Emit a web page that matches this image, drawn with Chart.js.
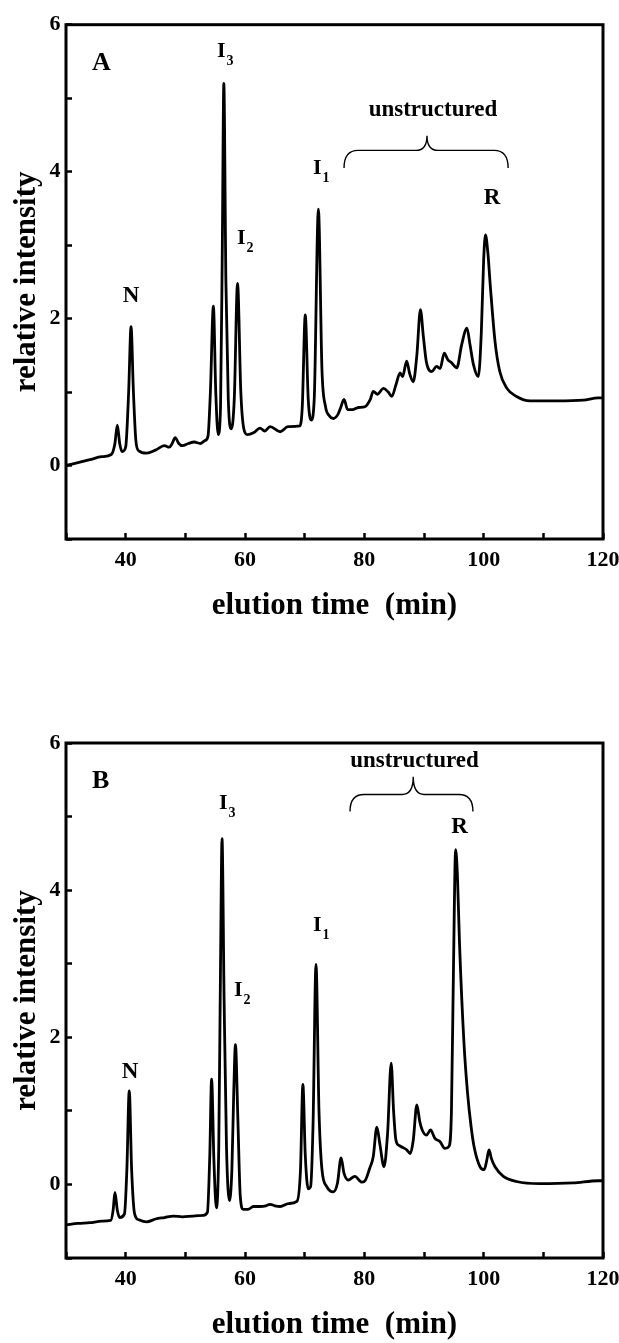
<!DOCTYPE html>
<html>
<head>
<meta charset="utf-8">
<script src="https://cdn.jsdelivr.net/npm/chart.js@4/dist/chart.umd.min.js"></script>
<style>
  html, body { margin: 0; padding: 0; background: #fff; width: 619px; height: 1343px; overflow: hidden; }
  canvas { position: absolute; left: 0; }
  #chartA { top: 0; }
  #chartB { top: 640px; }
</style>
</head>
<body>
<canvas id="chartA" width="619" height="624"></canvas>
<canvas id="chartB" width="619" height="703"></canvas>
<script>
// Panel A chromatogram (elution time in min, relative intensity)
const timeA = [30.0, 32.0, 34.0, 36.0, 37.6, 38.2, 38.6, 39.0, 39.4, 40.0, 40.5, 40.9, 41.3, 41.7, 42.2,
  43.5, 45.0, 46.5, 47.3, 47.8, 48.3, 48.9, 49.5, 50.5, 51.5, 52.5, 53.3, 53.8, 54.2, 54.7, 55.1, 55.5,
  55.9, 56.2, 56.45, 56.8, 57.2, 57.7, 58.2, 58.75, 59.3, 59.8, 60.4, 61.5, 62.5, 63.3, 64.2, 65.9, 67.2,
  69.2, 69.6, 70.1, 70.6, 71.1, 71.6, 72.3, 72.9, 73.5, 74.1, 74.8, 75.6, 76.0, 76.6, 77.2, 78.0, 79.0,
  80.1, 81.0, 81.5, 82.2, 83.2, 84.0, 84.6, 85.3, 86.0, 86.4, 87.1, 87.6, 88.2, 88.8, 89.4, 89.9, 90.4,
  91.3, 92.1, 92.7, 93.4, 94.0, 94.6, 95.5, 96.3, 97.2, 97.7, 98.3, 99.1, 99.6, 100.0, 100.3, 100.7,
  101.1, 101.9, 102.7, 103.9, 105.5, 107.8, 112.2, 116.7, 119.2, 120.0];
const intensityA = [0.00, 0.04, 0.08, 0.12, 0.15, 0.30, 0.55, 0.30, 0.19, 0.25, 1.00, 1.89, 1.00, 0.35, 0.20,
  0.17, 0.21, 0.27, 0.25, 0.30, 0.38, 0.30, 0.27, 0.30, 0.32, 0.30, 0.34, 0.40, 1.00, 2.17, 1.00, 0.42,
  0.80, 3.00, 5.20, 2.50, 0.90, 0.50, 0.90, 2.48, 1.00, 0.50, 0.42, 0.45, 0.51, 0.47, 0.53, 0.46, 0.53,
  0.54, 0.80, 2.05, 0.90, 0.62, 0.90, 3.49, 1.30, 0.80, 0.68, 0.64, 0.70, 0.78, 0.90, 0.76, 0.76, 0.79,
  0.80, 0.90, 1.01, 0.97, 1.05, 1.00, 0.94, 1.10, 1.26, 1.21, 1.42, 1.25, 1.14, 1.50, 2.12, 1.75, 1.41,
  1.28, 1.35, 1.32, 1.53, 1.44, 1.40, 1.33, 1.64, 1.87, 1.65, 1.37, 1.21, 1.80, 2.80, 3.14, 2.90,
  2.46, 1.69, 1.28, 1.05, 0.94, 0.88, 0.88, 0.89, 0.92, 0.92];

// Panel B chromatogram
const timeB = [30.0, 32.0, 34.0, 36.0, 37.5, 37.9, 38.2, 38.6, 39.0, 39.8, 40.2, 40.6, 41.0, 41.5, 42.2,
  43.5, 45.0, 46.5, 48.0, 49.5, 51.3, 53.0, 53.7, 54.1, 54.4, 54.8, 55.2, 55.6, 55.9, 56.15, 56.5, 56.9,
  57.4, 57.8, 58.1, 58.4, 58.8, 59.2, 59.7, 60.5, 61.4, 62.5, 63.5, 64.2, 65.0, 65.9, 67.3, 68.7, 69.3,
  69.7, 70.1, 70.6, 71.0, 71.4, 71.9, 72.4, 72.9, 73.7, 74.3, 74.8, 75.5, 76.1, 76.6, 77.3, 78.4, 79.6,
  80.2, 80.9, 81.5, 82.1, 82.6, 83.3, 83.9, 84.5, 84.9, 85.3, 85.8, 86.5, 87.1, 87.7, 88.2, 88.8, 89.3,
  89.7, 90.4, 91.1, 91.8, 92.7, 93.5, 94.2, 94.6, 94.95, 95.3, 95.6, 95.95, 96.7, 97.3, 97.9, 98.4,
  99.4, 100.1, 100.5, 100.9, 101.3, 101.9, 103.3, 105.5, 109.4, 115.0, 119.2, 120.0];
const intensityB = [-0.55, -0.53, -0.52, -0.50, -0.49, -0.35, -0.11, -0.35, -0.45, -0.40, 0.20, 1.27, 0.20, -0.40, -0.48,
  -0.51, -0.47, -0.45, -0.43, -0.44, -0.43, -0.42, -0.38, 0.40, 1.43, 0.30, -0.32, 0.50, 3.00, 4.70, 2.50, 0.50,
  -0.22, 0.20, 1.20, 1.90, 0.90, -0.15, -0.34, -0.34, -0.30, -0.30, -0.29, -0.27, -0.29, -0.30, -0.26, -0.23, 0.20,
  1.36, 0.40, -0.06, -0.03, 0.80, 2.99, 1.00, 0.20, -0.03, -0.09, -0.10, 0.02, 0.36, 0.15, 0.06, 0.11, 0.03,
  0.06, 0.22, 0.38, 0.78, 0.55, 0.24, 0.70, 1.65, 1.00, 0.60, 0.53, 0.50, 0.47, 0.42, 0.60, 1.08, 0.85,
  0.74, 0.67, 0.74, 0.63, 0.58, 0.49, 0.52, 1.00, 3.00, 4.55, 4.20, 3.28, 1.92, 1.24, 0.78, 0.51,
  0.24, 0.20, 0.32, 0.47, 0.35, 0.24, 0.11, 0.04, 0.01, 0.02, 0.05, 0.05];

// Axis tick labels
const xTickLabels = [40, 60, 80, 100, 120];
const yTickLabels = [0, 2, 4, 6];

// Peak labels, placed in data coordinates
const labelsA = [
  { text: "N", x: 40.9, y: 2.23 },
  { text: "I", sub: "3", x: 55.3, y: 5.56 },
  { text: "I", sub: "2", x: 58.66, y: 3.02 },
  { text: "I", sub: "1", x: 71.39, y: 3.97 },
  { text: "R", x: 101.39, y: 3.56 },
  { text: "unstructured", x: 91.5, y: 4.76 }
];
const labelsB = [
  { text: "N", x: 40.73, y: 1.45 },
  { text: "I", sub: "3", x: 55.64, y: 5.10 },
  { text: "I", sub: "2", x: 58.15, y: 2.56 },
  { text: "I", sub: "1", x: 71.39, y: 3.44 },
  { text: "R", x: 95.95, y: 4.78 },
  { text: "unstructured", x: 88.4, y: 5.68 }
];
// brace: [start, tip, end] in minutes, [end height, bar height, tip height]
const braceA = { x: [76.6, 90.5, 104.1], y: [4.05, 4.29, 4.49] };
const braceB = { x: [77.6, 88.2, 98.2], y: [5.07, 5.30, 5.54] };

const SERIF = '"Liberation Serif", "Times New Roman", serif';

const annotate = {
  id: "annotate",
  afterDraw(chart, args, opts) {
    const { ctx, chartArea: a } = chart;
    const sx = chart.scales.x, sy = chart.scales.y;
    ctx.save();

    // box frame
    ctx.strokeStyle = "#000";
    ctx.lineWidth = 3;
    ctx.strokeRect(a.left, a.top, a.right - a.left, a.bottom - a.top);

    ctx.fillStyle = "#000";
    ctx.textBaseline = "alphabetic";

    // panel letter
    ctx.font = `bold 26px ${SERIF}`;
    ctx.textAlign = "left";
    ctx.fillText(opts.panel, sx.getPixelForValue(34.36), sy.getPixelForValue(5.39));

    opts.labels.forEach(lab => {
      const px = sx.getPixelForValue(lab.x);
      const py = sy.getPixelForValue(lab.y);
      if (lab.sub) {
        ctx.font = `bold 22px ${SERIF}`;
        ctx.textAlign = "left";
        ctx.fillText(lab.text, px, py);
        const w = ctx.measureText(lab.text).width;
        ctx.font = `bold 14px ${SERIF}`;
        ctx.fillText(lab.sub, px + w + 1, py + 8);
      } else {
        ctx.font = `bold 23px ${SERIF}`;
        ctx.textAlign = "center";
        ctx.fillText(lab.text, px, py);
      }
    });

    // curly brace over the unstructured region
    const b = opts.brace;
    const x1 = sx.getPixelForValue(b.x[0]), xm = sx.getPixelForValue(b.x[1]), x2 = sx.getPixelForValue(b.x[2]);
    const yE = sy.getPixelForValue(b.y[0]), yB = sy.getPixelForValue(b.y[1]), yT = sy.getPixelForValue(b.y[2]);
    const r = 14, rt = 11;
    ctx.lineWidth = 1.4;
    ctx.beginPath();
    ctx.moveTo(x1, yE);
    ctx.quadraticCurveTo(x1, yB, x1 + r, yB);
    ctx.lineTo(xm - rt, yB);
    ctx.quadraticCurveTo(xm, yB, xm, yT);
    ctx.quadraticCurveTo(xm, yB, xm + rt, yB);
    ctx.lineTo(x2 - r, yB);
    ctx.quadraticCurveTo(x2, yB, x2, yE);
    ctx.stroke();

    ctx.restore();
  }
};

function renderChart(canvasId, times, values, panel, labels, brace, topPad) {
  const ctx = document.getElementById(canvasId).getContext("2d");
  const points = times.map((t, i) => ({ x: t, y: values[i] }));

  return new Chart(ctx, {
    type: "line",
    data: {
      datasets: [{
        data: points,
        borderColor: "#000",
        borderWidth: 2.8,
        pointRadius: 0,
        fill: false,
        cubicInterpolationMode: "monotone"
      }]
    },
    plugins: [annotate],
    options: {
      responsive: false,
      animation: false,
      layout: { padding: { top: topPad, right: 16, left: 0, bottom: 0 } },
      plugins: {
        legend: { display: false },
        tooltip: { enabled: false },
        annotate: { panel, labels, brace }
      },
      scales: {
        x: {
          type: "linear",
          min: 30,
          max: 120,
          // fixed axis band; drop the label overhang so the frame ends at 120 min
          afterFit: s => { s.height = 85; s.paddingLeft = 0; s.paddingRight = 0; },
          border: { display: false },
          grid: { drawOnChartArea: false, tickLength: -6, tickColor: "#000", tickWidth: 2.5 },
          ticks: {
            stepSize: 10,
            autoSkip: false,
            maxRotation: 0,
            padding: 14,
            color: "#000",
            font: { family: SERIF, size: 22, weight: "bold" },
            callback: v => (xTickLabels.includes(v) ? String(v) : "")
          },
          title: {
            display: true,
            text: "elution time  (min)",
            color: "#000",
            font: { family: SERIF, size: 31, weight: "bold", lineHeight: 1 },
            padding: { top: 0, bottom: 2.5 }
          }
        },
        y: {
          min: -1,
          max: 6,
          afterFit: s => { s.width = 66; },
          border: { display: false },
          grid: { drawOnChartArea: false, tickLength: -6, tickColor: "#000", tickWidth: 2.5 },
          ticks: {
            stepSize: 1,
            autoSkip: false,
            padding: 11.5,
            color: "#000",
            font: { family: SERIF, size: 22, weight: "bold" },
            callback: v => (yTickLabels.includes(v) ? String(v) : "")
          },
          title: {
            display: true,
            text: "relative intensity",
            color: "#000",
            font: { family: SERIF, size: 31, weight: "bold", lineHeight: 1 },
            padding: { top: 11.5, bottom: 0 }
          }
        }
      }
    }
  });
}

renderChart("chartA", timeA, intensityA, "A", labelsA, braceA, 22);
renderChart("chartB", timeB, intensityB, "B", labelsB, braceB, 103);
</script>
</body>
</html>
